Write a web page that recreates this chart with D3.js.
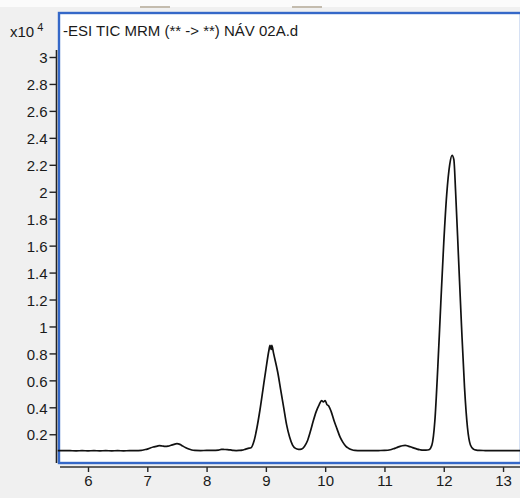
<!DOCTYPE html>
<html>
<head>
<meta charset="utf-8">
<script src="https://cdn.jsdelivr.net/npm/d3@7"></script>
<style>
  body { margin:0; background:#f0f0f0; }
  svg text { font-family:"Liberation Sans", Arial, sans-serif; fill:#1a1a1a; }
</style>
</head>
<body>
<svg></svg>
<script>
// retention time (min) and intensity (x10^4 counts)
var rt = [5.49,5.6,5.7,5.8,5.9,6.0,6.1,6.2,6.3,6.4,6.5,6.6,6.7,6.8,6.9,6.95,7.0,7.05,7.1,7.15,7.2,7.25,7.3,7.35,7.4,7.45,7.5,7.55,7.6,7.65,7.7,7.75,7.8,7.9,8.0,8.1,8.2,8.25,8.3,8.35,8.4,8.45,8.5,8.55,8.6,8.65,8.7,8.75,8.8,8.85,8.9,8.95,9.0,9.05,9.07,9.09,9.1,9.13,9.2,9.25,9.3,9.35,9.4,9.45,9.5,9.55,9.6,9.65,9.7,9.75,9.8,9.85,9.9,9.94,9.97,10.0,10.03,10.06,10.1,10.15,10.2,10.25,10.3,10.35,10.4,10.45,10.5,10.6,10.7,10.8,10.9,11.0,11.1,11.15,11.2,11.25,11.3,11.35,11.4,11.45,11.5,11.55,11.6,11.65,11.7,11.75,11.8,11.85,11.9,11.95,12.0,12.05,12.1,12.14,12.17,12.2,12.25,12.3,12.35,12.4,12.45,12.5,12.55,12.6,12.7,12.8,12.9,13.0,13.1,13.2,13.29]
var intensity = [0.078,0.079,0.078,0.077,0.078,0.077,0.078,0.077,0.078,0.077,0.078,0.077,0.078,0.078,0.080,0.085,0.090,0.098,0.105,0.110,0.115,0.113,0.110,0.112,0.118,0.125,0.130,0.125,0.112,0.100,0.090,0.083,0.080,0.079,0.080,0.080,0.082,0.088,0.087,0.086,0.084,0.080,0.079,0.080,0.082,0.088,0.095,0.10,0.15,0.25,0.38,0.53,0.68,0.82,0.86,0.83,0.86,0.80,0.66,0.53,0.40,0.27,0.18,0.12,0.095,0.088,0.090,0.11,0.15,0.22,0.30,0.37,0.42,0.45,0.44,0.45,0.42,0.41,0.37,0.30,0.24,0.18,0.14,0.11,0.095,0.085,0.080,0.078,0.078,0.078,0.079,0.080,0.085,0.092,0.100,0.108,0.115,0.118,0.112,0.105,0.097,0.090,0.085,0.082,0.082,0.085,0.12,0.30,0.70,1.17,1.62,1.98,2.20,2.27,2.24,2.00,1.50,1.00,0.55,0.25,0.12,0.09,0.082,0.080,0.079,0.078,0.078,0.079,0.078,0.078,0.079]
var xTicks = [6,7,8,9,10,11,12,13]
var yTicks = [0.2,0.4,0.6,0.8,1,1.2,1.4,1.6,1.8,2,2.2,2.4,2.6,2.8,3]
var title = "-ESI TIC MRM (** -> **) NÁV 02A.d"

var screen = {width:520, height:498}
var panel = {left:59, top:13, right:521, bottom:463}

var svg = d3.select("svg")
    .attr("width",screen.width)
    .attr("height",screen.height)

// top strip
svg.append("rect").attr("x",0).attr("y",0).attr("width",screen.width).attr("height",7).attr("fill","#fbfbfb")
svg.append("rect").attr("x",140).attr("y",6).attr("width",30).attr("height",2).attr("fill","#c4bcae")
svg.append("rect").attr("x",292).attr("y",6).attr("width",30).attr("height",2).attr("fill","#c4bcae")

var xScale = d3.scaleLinear()
    .domain([5.494,13.286])
    .range([58,520])
var yScale = d3.scaleLinear()
    .domain([0,3])
    .range([461.2,57])

// white plot panel with blue frame
svg.append("rect")
    .attr("x",panel.left)
    .attr("y",panel.top)
    .attr("width",panel.right-panel.left)
    .attr("height",panel.bottom-panel.top)
    .attr("fill","#ffffff")
    .attr("stroke","#3568c8")
    .attr("stroke-width",2.4)

// y axis
var yAxis = d3.axisLeft(yScale)
    .tickValues(yTicks)
    .tickSize(7)
    .tickPadding(2)
    .tickFormat(d3.format("~g"))
var gy = svg.append("g")
    .attr("transform","translate(56.5,0)")
    .call(yAxis)
gy.select(".domain").remove()
gy.selectAll("line").attr("stroke","#222").attr("stroke-width",1.4)
gy.selectAll("text").attr("font-size",15).attr("dy","0.38em").attr("fill","#1a1a1a")
svg.append("line").attr("x1",56.5).attr("x2",56.5).attr("y1",50).attr("y2",463)
    .attr("stroke","#222").attr("stroke-width",1.6)

// x axis
var xAxis = d3.axisBottom(xScale)
    .tickValues(xTicks)
    .tickSize(5)
    .tickPadding(2)
    .tickFormat(d3.format("d"))
var gx = svg.append("g")
    .attr("transform","translate(0,467)")
    .call(xAxis)
gx.select(".domain").remove()
gx.selectAll("line").attr("stroke","#222").attr("stroke-width",1.4)
gx.selectAll("text").attr("font-size",15).attr("dy","0.78em").attr("fill","#1a1a1a")
svg.append("line").attr("x1",60).attr("x2",520).attr("y1",467).attr("y2",467)
    .attr("stroke","#333").attr("stroke-width",1.6)

// exponent label
var ex = svg.append("text").attr("x",10).attr("y",37).attr("font-size",15)
ex.append("tspan").text("x10")
ex.append("tspan").attr("dx",3).attr("dy",-6).attr("font-size",11).text("4")

// title
svg.append("text").attr("x",63).attr("y",36).attr("font-size",15).text(title)

// trace
var line = d3.line()
    .x(function(d){ return xScale(d[0]) })
    .y(function(d){ return yScale(d[1]) })
    .curve(d3.curveMonotoneX)

svg.append("path")
    .datum(rt.map(function(t,i){ return [t,intensity[i]] }))
    .attr("fill","none")
    .attr("stroke","#111")
    .attr("stroke-width",1.7)
    .attr("d",line)
</script>
</body>
</html>
